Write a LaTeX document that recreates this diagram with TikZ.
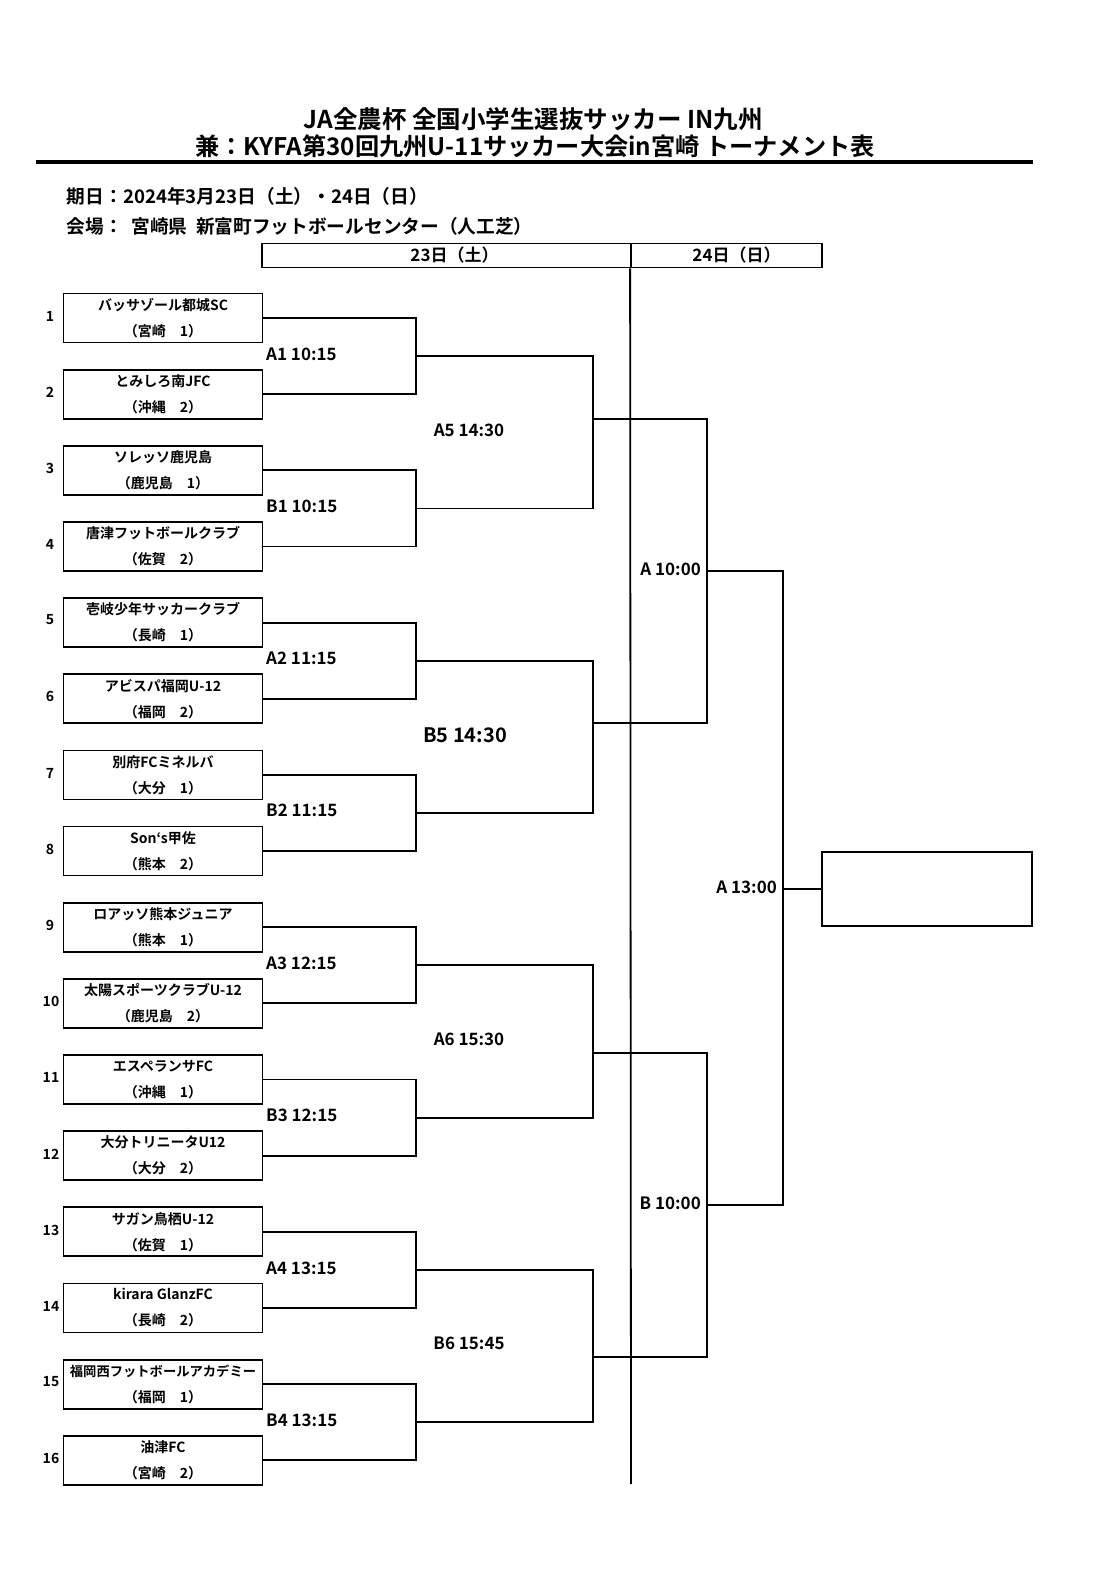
\documentclass[tikz,border=0pt]{standalone}
\usepackage{fontspec}
\setmainfont{Noto Sans CJK JP}[BoldFont={Noto Sans CJK JP Bold}]
\tikzset{
	team/.style={draw, line width=1.8pt, minimum width=199pt, minimum height=49pt,
			inner sep=0pt, align=center, font=\fontsize{14}{26}\selectfont\bfseries},
	seedno/.style={inner sep=0pt, font=\fontsize{14}{16}\selectfont\bfseries},
	game/.style={inner sep=0pt, font=\fontsize{17}{19}\selectfont\bfseries},
	daybox/.style={draw, line width=1.8pt, minimum height=24pt, inner sep=0pt,
			font=\fontsize{17}{19}\selectfont\bfseries},
	wire/.style={line width=1.8pt}
}

\begin{document}
\begin{tikzpicture}[x=1pt,y=-1pt]
    \useasboundingbox (0,0) rectangle (1114,1581);
    \node[font=\fontsize{24.5}{28}\selectfont\bfseries] (title1) at (533,119) {JA全農杯 全国小学生選抜サッカー IN九州};
    \node[font=\fontsize{24.2}{28}\selectfont\bfseries] (title2) at (535,146) {兼：KYFA第30回九州U-11サッカー大会in宮崎 トーナメント表};
    \coordinate (rulel) at (36,162.3);
    \coordinate (ruler) at (1033.3,162.3);
    \draw[line width=4.3pt] (rulel) -- (ruler);
    \node[anchor=west,inner sep=0pt,font=\fontsize{18.7}{21}\selectfont\bfseries] (date) at (66.7,196) {期日：2024年3月23日（土）・24日（日）};
    \node[anchor=west,inner sep=0pt,font=\fontsize{18.7}{21}\selectfont\bfseries] (venue) at (66.7,226) {会場：\ \ 宮崎県\ \ 新富町フットボールセンター（人工芝）};
    \node[daybox,minimum width=369pt] (day1) at (446.5,255.5) {\hspace{16pt}23日（土）};
    \node[daybox,minimum width=191pt] (day2) at (726.5,255.5) {\hspace{20pt}24日（日）};
    \coordinate (dayend) at (631,1484);
    \draw[wire] (day2.south west) -- (dayend);
    \node[team] (t1) at (163,318.0) {バッサゾール都城SC\\（宮崎　1）};
    \node[team] (t2) at (163,394.15) {とみしろ南JFC\\（沖縄　2）};
    \node[team] (t3) at (163,470.3) {ソレッソ鹿児島\\（鹿児島　1）};
    \node[team] (t4) at (163,546.45) {唐津フットボールクラブ\\（佐賀　2）};
    \node[team] (t5) at (163,622.6) {壱岐少年サッカークラブ\\（長崎　1）};
    \node[team] (t6) at (163,698.75) {アビスパ福岡U-12\\（福岡　2）};
    \node[team] (t7) at (163,774.9) {別府FCミネルバ\\（大分　1）};
    \node[team] (t8) at (163,851.05) {Son‘s甲佐\\（熊本　2）};
    \node[team] (t9) at (163,927.2) {ロアッソ熊本ジュニア\\（熊本　1）};
    \node[team] (t10) at (163,1003.35) {太陽スポーツクラブU-12\\（鹿児島　2）};
    \node[team] (t11) at (163,1079.5) {エスペランサFC\\（沖縄　1）};
    \node[team] (t12) at (163,1155.65) {大分トリニータU12\\（大分　2）};
    \node[team] (t13) at (163,1231.8) {サガン鳥栖U-12\\（佐賀　1）};
    \node[team] (t14) at (163,1307.95) {kirara GlanzFC\\（長崎　2）};
    \node[team] (t15) at (163,1384.1) {{\fontsize{13.3}{26}\selectfont 福岡西フットボールアカデミー}\\（福岡　1）};
    \node[team] (t16) at (163,1460.25) {油津FC\\（宮崎　2）};
    \node[seedno] (n1) at (50,316) {1};
    \node[seedno] (n2) at (50,392) {2};
    \node[seedno] (n3) at (50,468) {3};
    \node[seedno] (n4) at (50,544) {4};
    \node[seedno] (n5) at (50,620) {5};
    \node[seedno] (n6) at (50,696) {6};
    \node[seedno] (n7) at (50,773) {7};
    \node[seedno] (n8) at (50,849) {8};
    \node[seedno] (n9) at (50,925) {9};
    \node[seedno] (n10) at (51,1001) {10};
    \node[seedno] (n11) at (51,1077) {11};
    \node[seedno] (n12) at (51,1154) {12};
    \node[seedno] (n13) at (51,1230) {13};
    \node[seedno] (n14) at (51,1306) {14};
    \node[seedno] (n15) at (51,1382) {15};
    \node[seedno] (n16) at (51,1458) {16};
    \coordinate (j1) at (415.7,356.1);
    \coordinate (j2) at (415.7,508.4);
    \coordinate (j3) at (415.7,660.7);
    \coordinate (j4) at (415.7,812.95);
    \coordinate (j5) at (415.7,965.3);
    \coordinate (j6) at (415.7,1117.6);
    \coordinate (j7) at (415.7,1269.9);
    \coordinate (j8) at (415.7,1422.2);
    \coordinate (k1) at (592.7,419.3);
    \coordinate (k2) at (592.7,722.7);
    \coordinate (k3) at (592.7,1052.7);
    \coordinate (k4) at (592.7,1357.3);
    \coordinate (q1) at (707.3,571);
    \coordinate (q2) at (707.3,1205);
    \coordinate (fin) at (783.3,888.7);
    \node[draw,line width=1.8pt,minimum width=210pt,minimum height=74pt] (champ) at (926.7,888.7) {};
    \draw[wire] (t1.east) -| (j1) |- (t2.east);
    \draw[wire] (t3.east) -| (j2) |- (t4.east);
    \draw[wire] (t5.east) -| (j3) |- (t6.east);
    \draw[wire] (t7.east) -| (j4) |- (t8.east);
    \draw[wire] (t9.east) -| (j5) |- (t10.east);
    \draw[wire] (t11.east) -| (j6) |- (t12.east);
    \draw[wire] (t13.east) -| (j7) |- (t14.east);
    \draw[wire] (t15.east) -| (j8) |- (t16.east);
    \draw[wire] (j1) -| (k1) |- (j2);
    \draw[wire] (j3) -| (k2) |- (j4);
    \draw[wire] (j5) -| (k3) |- (j6);
    \draw[wire] (j7) -| (k4) |- (j8);
    \draw[wire] (k1) -| (q1) |- (k2);
    \draw[wire] (k3) -| (q2) |- (k4);
    \draw[wire] (q1) -| (fin) |- (q2);
    \draw[wire] (fin) -- (champ.west);
    \node[game,anchor=west] (a1) at (266,354) {A1 10:15};
    \node[game,anchor=west] (b1) at (266,506) {B1 10:15};
    \node[game,anchor=west] (a2) at (266,658) {A2 11:15};
    \node[game,anchor=west] (b2) at (266,810) {B2 11:15};
    \node[game,anchor=west] (a3) at (266,963) {A3 12:15};
    \node[game,anchor=west] (b3) at (266,1115) {B3 12:15};
    \node[game,anchor=west] (a4) at (266,1268) {A4 13:15};
    \node[game,anchor=west] (b4) at (266,1420) {B4 13:15};
    \node[game] (a5) at (469,430) {A5 14:30};
    \node[game,font=\fontsize{20}{22}\selectfont\bfseries] (b5) at (465,735) {B5 14:30};
    \node[game] (a6) at (469,1039) {A6 15:30};
    \node[game] (b6) at (469,1343) {B6 15:45};
    \node[game,anchor=east] (sa) at (701,569) {A 10:00};
    \node[game,anchor=east] (sb) at (701,1203) {B 10:00};
    \node[game,anchor=east] (fa) at (777,887) {A 13:00};
\end{tikzpicture}
\end{document}
